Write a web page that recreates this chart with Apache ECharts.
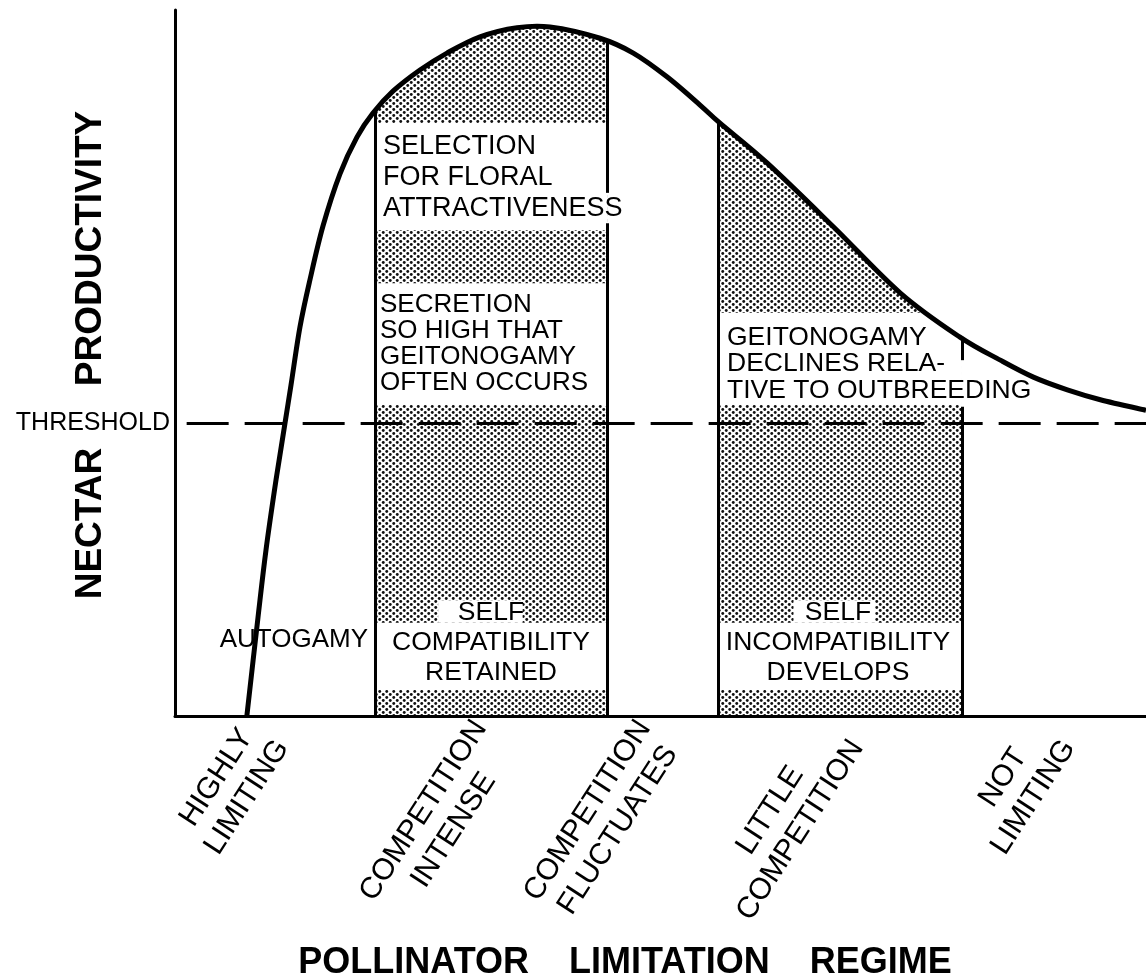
<!DOCTYPE html>
<html>
<head>
<meta charset="utf-8">
<script src="https://cdn.jsdelivr.net/npm/echarts@6/dist/echarts.min.js"></script>
<style>
html,body{margin:0;padding:0;background:#fff;}
#chart{width:1146px;height:980px;}
</style>
</head>
<body>
<div id="chart"></div>
<script>
// ---- data (schematic units: x 0..100, y 0..100) ----
const curveX = [7.4, 8.55, 9.37, 10.4, 11.33, 11.95, 12.87, 13.9, 15.24, 16.99, 18.74, 20.39, 22.45, 25.23, 28.01, 31.41, 35.22, 38.62, 43.77, 47.2, 50.7, 54.1, 56.1, 61.0, 67.8, 74.7, 80.8, 85.0, 88.4, 91.9, 95.3, 100];
const curveY = [0, 14.0, 23.5, 33.4, 41.5, 46.9, 55.1, 61.8, 69.4, 76.8, 82.0, 85.4, 88.5, 91.5, 93.9, 96.2, 97.5, 97.6, 96.0, 93.9, 90.5, 86.5, 84.0, 78.3, 69.3, 59.9, 53.7, 50.4, 48.0, 46.2, 44.8, 43.3];
const thresholdValue = 41.5;
const shadedRegions = [[20.6, 44.5], [55.9, 81.05]];
const regimePositions = [9.5, 33.0, 49.9, 68.7, 90.5];
const regimeLabels = ['HIGHLY\nLIMITING', 'COMPETITION\nINTENSE', 'COMPETITION\nFLUCTUATES', 'LITTLE\nCOMPETITION', 'NOT\nLIMITING'];
const thresholdLabel = 'THRESHOLD';
const xTitle = 'POLLINATOR    LIMITATION    REGIME';
const yTitle = 'NECTAR      PRODUCTIVITY';

// ---- layout helpers ----
const FONT = 'Liberation Sans, Arial, sans-serif';
const curveData = curveX.map((x, i) => [x, curveY[i]]);

function makeStipple() {
  const c = document.createElement('canvas');
  c.width = 7; c.height = 6;
  const g = c.getContext('2d');
  g.fillStyle = '#fff'; g.fillRect(0, 0, 7, 6);
  g.fillStyle = '#111';
  [[1.75, 1.5], [5.25, 4.5]].forEach(p => {
    g.beginPath(); g.arc(p[0], p[1], 1.45, 0, Math.PI * 2); g.fill();
  });
  return c;
}
const stipple = makeStipple();

// Catmull-Rom spline through pixel points -> SVG path string
function splinePath(pts) {
  let d = 'M' + pts[0][0] + ' ' + pts[0][1];
  for (let i = 0; i < pts.length - 1; i++) {
    const p0 = pts[i - 1] || pts[i], p1 = pts[i], p2 = pts[i + 1], p3 = pts[i + 2] || pts[i + 1];
    const c1x = p1[0] + (p2[0] - p0[0]) / 6, c1y = p1[1] + (p2[1] - p0[1]) / 6;
    const c2x = p2[0] - (p3[0] - p1[0]) / 6, c2y = p2[1] - (p3[1] - p1[1]) / 6;
    d += ' C' + c1x + ' ' + c1y + ' ' + c2x + ' ' + c2y + ' ' + p2[0] + ' ' + p2[1];
  }
  return d;
}

function curveRenderer(filled) {
  return function (params, api) {
    if (params.dataIndex !== 0) return null;
    const pts = curveData.map(p => api.coord(p));
    let d = splinePath(pts);
    if (filled) {
      const base = api.coord([0, 0])[1];
      d += ' L' + pts[pts.length - 1][0] + ' ' + base + ' L' + pts[0][0] + ' ' + base + ' Z';
      return {type: 'path', shape: {pathData: d}, style: {fill: {image: stipple, repeat: 'repeat'}, stroke: null}};
    }
    return {type: 'path', shape: {pathData: d}, style: {fill: null, stroke: '#000', lineWidth: 5, lineJoin: 'round'}};
  };
}

const [A, B] = shadedRegions;
const masks = [
  [[0, 0], [A[0], 100]],
  [[A[1], 0], [B[0], 100]],
  [[B[1], 0], [100, 100]],
  [[A[0], 68.8], [A[1], 84.0]],
  [[A[0], 44.05], [A[1], 61.3]],
  [[27.1, 13.2], [35.8, 16.4]],
  [[A[0], 3.7], [A[1], 13.2]],
  [[B[0], 44.05], [B[1], 57.1]],
  [[63.7, 13.2], [72.1, 16.4]],
  [[B[0], 3.7], [B[1], 13.2]]
].map(r => [{coord: r[0]}, {coord: r[1]}]);

const borders = [
  [[A[0], 0], [A[0], 85.6]],
  [[A[1], 0], [A[1], 69.8]],
  [[A[1], 74.1], [A[1], 95.7]],
  [[B[0], 0], [B[0], 84.3]],
  [[B[1], 0], [B[1], 43.8]],
  [[B[1], 50.4], [B[1], 53.7]]
].map(s => [{coord: s[0]}, {coord: s[1]}]);

function regimeFormatter(v) {
  let idx = 0, best = Infinity;
  regimePositions.forEach((p, i) => { const d = Math.abs(p - v); if (d < best) { best = d; idx = i; } });
  return regimeLabels[idx].split('\n').map(s => '{c|' + s + '}').join('\n');
}

function txt(text, x, y, size, align, vAlign, lh, weight) {
  return {
    type: 'text', x: x, y: y, z: 3, silent: true,
    style: {
      text: text, fill: '#000', fontSize: size, fontFamily: FONT,
      fontWeight: weight || 'normal',
      align: align, verticalAlign: vAlign, lineHeight: lh || size
    }
  };
}

const chart = echarts.init(document.getElementById('chart'), null, {renderer: 'canvas'});
chart.setOption({
  animation: false,
  backgroundColor: '#fff',
  grid: {left: 175, right: 0, top: 10, bottom: 264, outerBoundsMode: 'none'},
  xAxis: {
    type: 'value', min: 0, max: 100, z: 10,
    axisLine: {show: true, onZero: false, lineStyle: {color: '#000', width: 3}},
    axisTick: {show: false}, splitLine: {show: false},
    axisLabel: {
      customValues: regimePositions, rotate: 57, margin: 17,
      formatter: regimeFormatter,
      rich: {c: {fontSize: 30, fontFamily: FONT, color: '#000', lineHeight: 36, align: 'center'}}
    },
    name: xTitle, nameLocation: 'middle', nameGap: 229, nameMoveOverlap: false,
    nameTextStyle: {fontSize: 36, fontWeight: 'bold', fontFamily: FONT, color: '#000', padding: [0, 71, 0, 0]}
  },
  yAxis: {
    type: 'value', min: 0, max: 100, z: 10,
    axisLine: {show: true, onZero: false, lineStyle: {color: '#000', width: 3}},
    axisTick: {show: false}, splitLine: {show: false},
    axisLabel: {
      customValues: [thresholdValue], margin: 5,
      formatter: () => thresholdLabel,
      fontSize: 25, fontFamily: FONT, color: '#000'
    },
    name: yTitle, nameLocation: 'middle', nameGap: 66, nameRotate: 90, nameMoveOverlap: false,
    nameTextStyle: {fontSize: 37, fontWeight: 'bold', fontFamily: FONT, color: '#000', padding: [0, 0, 0, 16]}
  },
  series: [
    {
      type: 'custom', z: 0, silent: true, clip: false,
      data: curveData, encode: {x: 0, y: 1},
      renderItem: curveRenderer(true)
    },
    {
      type: 'line', z: 1, data: [], symbol: 'none', silent: true,
      markArea: {silent: true, itemStyle: {color: '#fff', opacity: 1, borderWidth: 0}, label: {show: false}, data: masks}
    },
    {
      type: 'line', z: 4, data: [], symbol: 'none', silent: true,
      markLine: {
        silent: true, symbol: 'none', label: {show: false},
        lineStyle: {color: '#000', width: 3, type: 'solid'},
        emphasis: {disabled: true},
        data: borders
      }
    },
    {
      type: 'line', z: 4, data: [], symbol: 'none', silent: true,
      markLine: {
        silent: true, symbol: 'none', label: {show: false},
        lineStyle: {color: '#000', width: 3, type: [42, 16]},
        emphasis: {disabled: true},
        data: [[{coord: [1.2, thresholdValue]}, {coord: [100, thresholdValue]}]]
      }
    },
    {
      type: 'custom', z: 6, silent: true, clip: false,
      data: curveData, encode: {x: 0, y: 1},
      renderItem: curveRenderer(false)
    }
  ],
  graphic: [
    txt('SELECTION\nFOR FLORAL\nATTRACTIVENESS', 383, 131, 27, 'left', 'top', 31),
    txt('SECRETION\nSO HIGH THAT\nGEITONOGAMY\nOFTEN OCCURS', 380, 292, 26, 'left', 'top', 26),
    txt('GEITONOGAMY\nDECLINES RELA-\nTIVE TO OUTBREEDING', 727, 324, 26.5, 'left', 'top', 26.5),
    txt('SELF\nCOMPATIBILITY\nRETAINED', 491, 598, 26.5, 'center', 'top', 30),
    txt('SELF\nINCOMPATIBILITY\nDEVELOPS', 838, 598, 26.5, 'center', 'top', 30),
    txt('AUTOGAMY', 368, 640, 26, 'right', 'middle', 26)
  ]
});
</script>
</body>
</html>
